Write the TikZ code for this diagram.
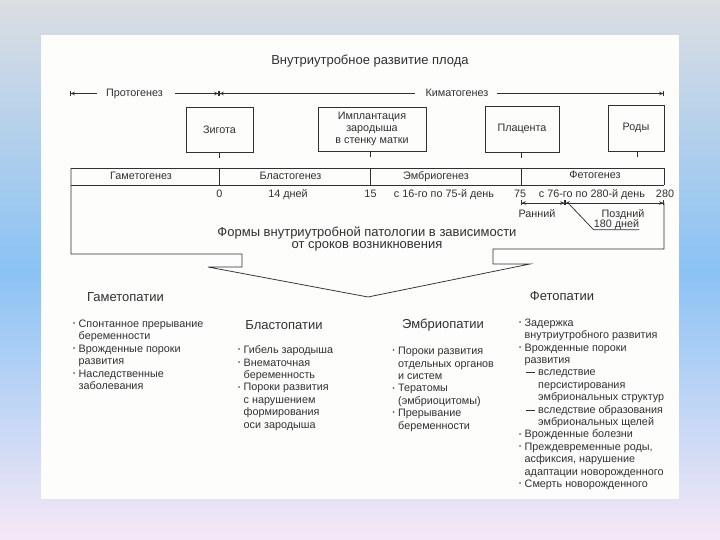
\documentclass[tikz,border=0pt]{standalone}
\usepackage{fontspec}
\setmainfont{Liberation Sans}
\usetikzlibrary{arrows.meta}
\definecolor{ink}{HTML}{303030}
\definecolor{bgtop}{RGB}{220,222,226}
\definecolor{bgmid}{RGB}{138,194,244}
\definecolor{bgbot}{RGB}{246,232,246}
\definecolor{paper}{HTML}{FDFDFC}
\newcommand{\smallf}{\fontsize{10.8}{12.4}\selectfont}
\newcommand{\bigf}{\fontsize{13}{15}\selectfont}
\newcommand{\bul}{\makebox[5.5pt][l]{\raisebox{0.3ex}{\fontsize{6}{6}\selectfont•}}}
\newcommand{\ind}{\hspace*{5.5pt}}
\newcommand{\dsh}{\hspace*{7pt}\makebox[12pt][l]{\rule[2.9pt]{8.5pt}{0.7pt}}}
\newcommand{\dind}{\hspace*{19pt}}
\tikzset{
  tl/.style={draw=ink, line width=0.75pt},
  lt/.style={arrows={{Bar[width=5pt]Stealth[length=4pt,width=3.5pt]}-}},
  rt/.style={arrows={-{Stealth[length=4pt,width=3.5pt]Bar[width=5pt]}}},
  lrt/.style={arrows={{Bar[width=5pt]Stealth[length=4pt,width=3.5pt]}-{Stealth[length=4pt,width=3.5pt]Bar[width=5pt]}}},
  evbox/.style={draw=ink, line width=0.85pt, align=center, font=\smallf, text=ink, inner sep=0pt},
  lbl/.style={font=\smallf, text=ink, anchor=base, inner sep=0pt},
  big/.style={font=\bigf, text=ink, anchor=base, inner sep=0pt},
  lst/.style={font=\smallf, text=ink, anchor=base west, align=left, inner sep=0pt}
}
\begin{document}
\begin{tikzpicture}[x=1pt,y=-1pt]
\useasboundingbox (0,0) rectangle (720,540);
\shade[top color=bgtop, bottom color=bgbot, middle color=bgmid] (0,0) rectangle (720,540);
\fill[paper] (41,35) rectangle (679,499);

% title
\node[big] (title) at (370,65) {Внутриутробное развитие плода};

% top timeline
\coordinate (pL) at (70,93.5);
\coordinate (pM) at (219,93.5);
\coordinate (kR) at (664,93.5);
\node[lbl] (prot) at (134.5,97) {Протогенез};
\node[lbl] (kima) at (457,97) {Киматогенез};
\draw[tl, lt] (pL) -- ([xshift=-9pt]prot.west |- pL);
\draw[tl, rt] ([xshift=12pt]prot.east |- pL) -- (pM);
\draw[tl, lt] (pM) -- ([xshift=-10pt]kima.west |- pL);
\draw[tl, rt] ([xshift=8pt]kima.east |- pL) -- (kR);

% event boxes
\node[evbox, minimum width=67pt, minimum height=45pt] (zig) at (219.5,129.5) {Зигота};
\node[evbox, minimum width=108pt, minimum height=44pt] (impl) at (372,129) {Имплантация\\зародыша\\в стенку матки};
\node[evbox, minimum width=74pt, minimum height=46pt] (plac) at (522,129) {Плацента};
\node[evbox, minimum width=56pt, minimum height=46pt] (rody) at (636,128) {Роды};
\draw[tl] (zig.south) -- ++(0,6);
\draw[tl] ([xshift=-1.5pt]impl.south) -- ++(0,6);
\draw[tl] ([xshift=-1pt]plac.south) -- ++(0,6);
\draw[tl] ([xshift=1pt]rody.south) -- ++(0,6);

% table
\draw[tl] (71,168) -- (664,168) -- (664,185.5);
\draw[tl] (71,185.5) -- (664,185.5);
\draw[tl] (219,168) -- (219,185.5);
\draw[tl] (370.5,168) -- (370.5,185.5);
\draw[tl] (521,168) -- (521,185.5);
\node[lbl] (h1) at (141,180) {Гаметогенез};
\node[lbl] (h2) at (290.5,180) {Бластогенез};
\node[lbl] (h3) at (436,179.5) {Эмбриогенез};
\node[lbl] (h4) at (595,179) {Фетогенез};

\node[lbl] (n0) at (219.5,198) {0};
\node[lbl] (n14) at (288,198) {14 дней};
\node[lbl] (n15) at (370.5,198) {15};
\node[lbl] (n1675) at (444,198) {с 16-го по 75-й день};
\node[lbl] (n75) at (520,197.5) {75};
\node[lbl] (n76) at (592,197.5) {с 76-го по 280-й день};
\node[lbl] (n280) at (665,197.5) {280};

% early / late
\coordinate (rA) at (521,203);
\coordinate (rM) at (565,203);
\coordinate (rB) at (664,203);
\draw[tl, lrt] (rA) -- (rM);
\draw[tl, lrt] (rM) -- (rB);
\node[lbl] (early) at (537,217.5) {Ранний};
\node[lbl] (late) at (623,217.5) {Поздний};
\node[lbl] (d180) at (616.5,227) {180 дней};
\coordinate (dg) at (570,205);
\draw[tl] (dg) -- ([yshift=-0.5pt]d180.south west) -- ([yshift=-0.5pt]d180.south east);

% frame and big arrow
\draw[tl] (71,168) -- (71,254) -- (242,254) -- (242,267) -- (208,267) -- (368,297)
  -- (530,264) -- (493,264) -- (493,249) -- (664,249) -- (rB);

\node[big] (forms1) at (367,236.5) {Формы внутриутробной патологии в зависимости};
\node[big] (forms2) at (367,248) {от сроков возникновения};

% headings
\node[big] (gp) at (125.5,301.5) {Гаметопатии};
\node[big] (bp) at (284,329) {Бластопатии};
\node[big] (ep) at (443,328.5) {Эмбриопатии};
\node[big] (fp) at (562,300.5) {Фетопатии};

% lists (anchored at the baseline of their last line)
\node[lst] (gl) at (73,389.5) {\bul Спонтанное прерывание\\ \ind беременности\\ \bul Врожденные пороки\\ \ind развития\\ \bul Наследственные\\ \ind заболевания};
\node[lst] (bl) at (238,428) {\bul Гибель зародыша\\ \bul Внематочная\\ \ind беременность\\ \bul Пороки развития\\ \ind с нарушением\\ \ind формирования\\ \ind оси зародыша};
\node[lst] (el) at (392.5,429) {\bul Пороки развития\\ \ind отдельных органов\\ \ind и систем\\ \bul Тератомы\\ \ind (эмбриоцитомы)\\ \bul Прерывание\\ \ind беременности};
\node[lst] (fl) at (519,487.5) {\bul Задержка\\ \ind внутриутробного развития\\ \bul Врожденные пороки\\ \ind развития\\ \dsh вследствие\\ \dind персистирования\\ \dind эмбриональных структур\\ \dsh вследствие образования\\ \dind эмбриональных щелей\\ \bul Врожденные болезни\\ \bul Преждевременные роды,\\ \ind асфиксия, нарушение\\ \ind адаптации новорожденного\\ \bul Смерть новорожденного};
\end{tikzpicture}
\end{document}
